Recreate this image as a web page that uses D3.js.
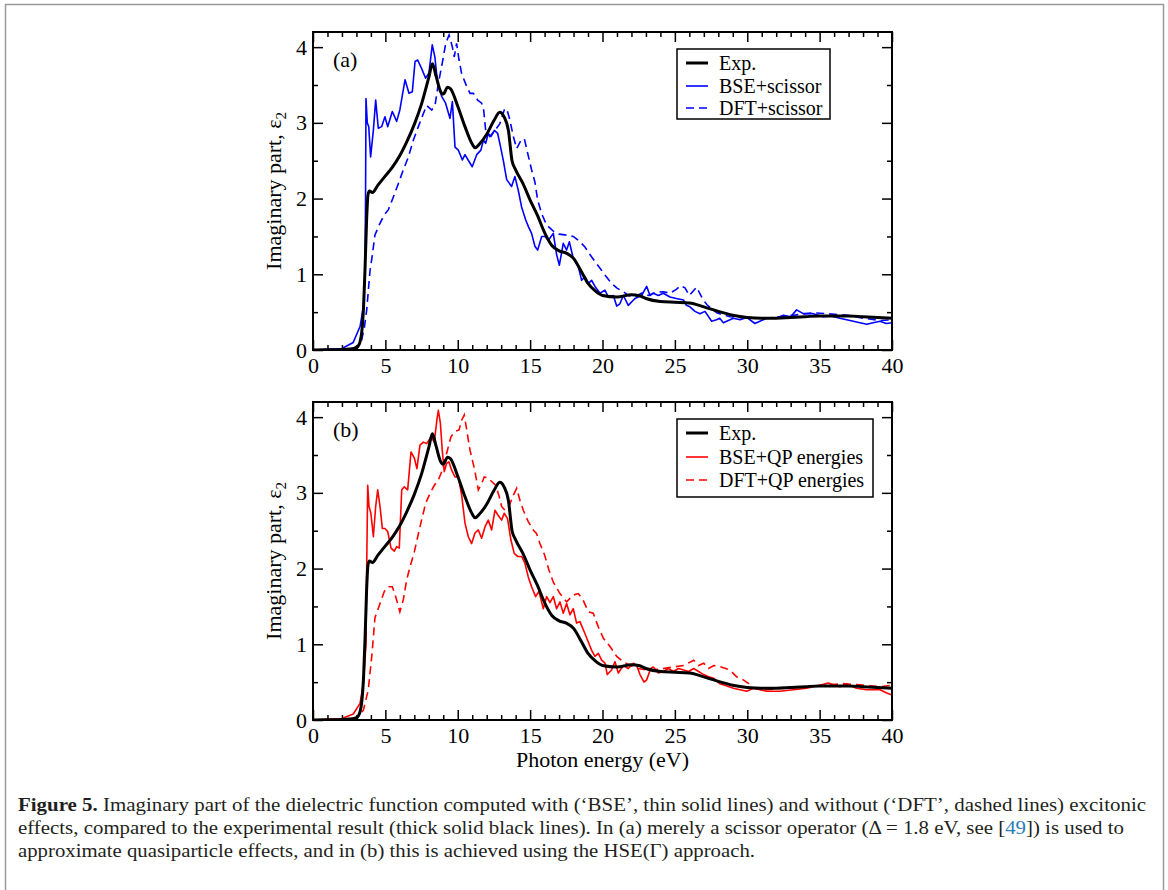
<!DOCTYPE html>
<html>
<head>
<meta charset="utf-8">
<script src="https://cdn.jsdelivr.net/npm/d3@7"></script>
<style>
  body { margin: 0; background: #fff; }
  svg { display: block; }
</style>
</head>
<body>
<svg id="chart" width="1168" height="890"></svg>
<script>
// experimental spectrum (same in both panels)
const expData = [[0,0],[1,0.002],[2,0.006],[2.5,0.012],[3,0.03],[3.2,0.08],[3.4,0.3],[3.5,0.6],[3.6,1.1],[3.7,1.7],[3.8,2.05],[3.9,2.1],[4.1,2.08],[4.5,2.18],[5,2.3],[5.5,2.42],[6,2.57],[6.5,2.76],[7,2.98],[7.5,3.25],[8,3.6],[8.25,3.78],[8.5,3.62],[8.8,3.42],[9,3.38],[9.3,3.47],[9.5,3.45],[10,3.22],[10.5,2.95],[11,2.72],[11.2,2.67],[11.5,2.72],[12,2.85],[12.5,3.03],[12.9,3.14],[13.2,3.08],[13.5,2.9],[13.75,2.5],[14,2.38],[14.5,2.2],[15,1.98],[15.5,1.78],[16,1.55],[16.5,1.38],[17,1.31],[17.5,1.28],[18,1.21],[18.5,1.05],[19,0.88],[19.5,0.78],[20,0.72],[21,0.7],[22,0.73],[22.5,0.72],[23,0.68],[24,0.64],[25,0.63],[26,0.62],[27,0.57],[28,0.51],[29,0.46],[30,0.43],[31,0.42],[32,0.42],[33,0.43],[34,0.44],[35,0.45],[36,0.45],[37,0.45],[38,0.44],[39,0.43],[40,0.42]];

// panel (a)
const bseScissor = [[0,0],[1,0.01],[2,0.02],[2.78,0.1],[3.25,0.31],[3.48,0.57],[3.59,1.0],[3.63,2.0],[3.66,3.32],[3.75,3.0],[3.85,2.95],[3.98,2.55],[4.17,2.9],[4.33,3.3],[4.51,2.93],[4.74,2.95],[4.97,3.08],[5.16,2.95],[5.48,3.15],[5.78,3.02],[6.0,3.17],[6.36,3.57],[6.63,3.39],[6.86,3.41],[7.05,3.81],[7.23,3.83],[7.5,3.72],[7.78,3.59],[8.01,3.66],[8.24,4.03],[8.42,3.87],[8.61,3.52],[8.89,3.35],[9.16,3.26],[9.46,3.06],[9.63,3.28],[9.81,2.68],[10.04,2.64],[10.32,2.51],[10.5,2.58],[10.78,2.49],[11.0,2.42],[11.31,2.58],[11.6,2.64],[11.77,2.77],[11.93,2.73],[12.11,2.86],[12.3,2.82],[12.53,2.9],[12.76,2.86],[12.94,2.7],[13.15,2.5],[13.38,2.25],[13.72,2.16],[13.95,2.29],[14.18,2.11],[14.41,1.89],[14.69,1.72],[14.88,1.63],[15.1,1.54],[15.33,1.37],[15.52,1.32],[15.8,1.5],[16.03,1.5],[16.26,1.45],[16.6,1.54],[16.83,1.26],[17.02,1.12],[17.29,1.41],[17.52,1.32],[17.71,1.43],[17.98,1.21],[18.33,1.1],[18.56,0.92],[18.79,0.97],[19.02,0.88],[19.25,0.92],[19.48,0.84],[19.83,0.75],[20.17,0.79],[20.4,0.7],[20.75,0.72],[20.98,0.58],[21.2,0.61],[21.44,0.72],[21.78,0.59],[22.24,0.68],[22.7,0.72],[23.05,0.84],[23.28,0.72],[23.51,0.75],[23.86,0.72],[24.2,0.75],[24.66,0.7],[25.1,0.68],[25.6,0.66],[25.8,0.59],[26.04,0.57],[26.39,0.51],[26.73,0.48],[27.08,0.51],[27.54,0.38],[27.88,0.4],[28.1,0.42],[28.35,0.36],[29.04,0.42],[29.5,0.4],[29.96,0.43],[30.53,0.35],[31.34,0.42],[32.0,0.42],[32.5,0.46],[33.0,0.44],[33.41,0.53],[33.87,0.48],[34.56,0.48],[35.25,0.44],[35.8,0.45],[36.4,0.42],[37.33,0.38],[38.25,0.34],[38.7,0.36],[39.17,0.38],[39.6,0.35],[40,0.36]];
const dftScissor = [[0,0],[1,0.003],[2,0.01],[2.78,0.02],[3.1,0.06],[3.36,0.13],[3.55,0.3],[3.71,0.53],[3.94,1.05],[4.06,1.2],[4.28,1.52],[4.62,1.67],[4.9,1.78],[5.2,1.85],[5.55,2.02],[5.9,2.2],[6.24,2.38],[6.59,2.55],[6.93,2.77],[7.28,2.95],[7.62,3.12],[7.85,3.23],[8.2,3.17],[8.43,3.23],[8.66,3.52],[8.93,3.79],[9.17,4.05],[9.4,4.16],[9.63,4.0],[9.76,3.87],[9.92,4.05],[10.09,3.83],[10.27,3.65],[10.62,3.48],[10.85,3.39],[11.08,3.39],[11.38,3.3],[11.65,3.26],[11.79,3.17],[11.93,2.9],[12.22,2.82],[12.57,2.9],[12.91,2.99],[13.21,3.17],[13.38,3.19],[13.6,3.04],[13.84,2.82],[14.07,2.66],[14.37,2.77],[14.6,2.79],[14.83,2.6],[15.1,2.38],[15.33,2.22],[15.52,1.98],[15.8,1.8],[16.14,1.65],[16.6,1.57],[17.0,1.53],[17.4,1.52],[17.98,1.5],[18.44,1.43],[18.79,1.36],[19.13,1.26],[19.48,1.17],[19.83,1.08],[20.17,0.99],[20.63,0.88],[20.98,0.82],[21.44,0.77],[21.78,0.72],[22.24,0.7],[22.7,0.75],[23.17,0.72],[23.63,0.76],[24.2,0.77],[24.66,0.75],[25.1,0.8],[25.4,0.85],[25.7,0.82],[26.0,0.72],[26.5,0.83],[26.9,0.68],[27.2,0.6],[27.5,0.55],[27.9,0.49],[28.4,0.46],[28.8,0.44],[29.4,0.43],[30,0.42],[31.3,0.42],[32.2,0.44],[33.2,0.46],[34.56,0.49],[35.5,0.48],[36.9,0.46],[38,0.42],[39.2,0.39],[40,0.4]];

// panel (b)
const bseQP = [[0,0],[1,0.01],[2,0.02],[2.78,0.08],[3.25,0.22],[3.48,0.48],[3.66,1.0],[3.72,2.2],[3.78,3.1],[3.87,2.82],[4.0,2.73],[4.17,2.42],[4.33,2.82],[4.47,3.04],[4.63,2.82],[4.79,2.53],[4.97,2.53],[5.16,2.49],[5.39,2.27],[5.62,2.23],[5.78,2.29],[5.96,2.27],[6.13,3.04],[6.31,3.08],[6.54,3.04],[6.77,3.54],[7.0,3.46],[7.18,3.32],[7.39,3.63],[7.62,3.67],[7.85,3.65],[8.15,3.74],[8.38,3.67],[8.57,3.98],[8.66,4.09],[8.8,3.92],[8.93,3.56],[9.07,3.28],[9.23,3.39],[9.39,3.41],[9.58,3.3],[9.81,3.21],[10.04,3.21],[10.27,2.97],[10.5,2.6],[10.73,2.42],[10.96,2.33],[11.19,2.47],[11.42,2.51],[11.65,2.4],[11.88,2.55],[12.11,2.64],[12.34,2.51],[12.57,2.77],[12.8,2.7],[13.03,2.64],[13.21,2.73],[13.44,2.66],[13.67,2.38],[13.9,2.2],[14.13,2.16],[14.41,2.16],[14.64,2.07],[14.87,1.89],[15.1,1.76],[15.38,1.63],[15.61,1.7],[15.91,1.47],[16.14,1.63],[16.37,1.55],[16.6,1.63],[16.83,1.47],[17.06,1.56],[17.29,1.41],[17.52,1.54],[17.75,1.39],[17.98,1.47],[18.21,1.28],[18.44,1.3],[18.79,1.14],[19.02,1.03],[19.25,0.92],[19.48,0.84],[19.71,0.88],[19.94,0.79],[20.17,0.75],[20.33,0.6],[20.63,0.66],[20.86,0.77],[21.09,0.62],[21.44,0.72],[21.78,0.68],[22.13,0.75],[22.36,0.72],[22.59,0.6],[22.87,0.5],[23.05,0.53],[23.33,0.68],[23.51,0.7],[23.86,0.62],[24.2,0.64],[24.55,0.68],[24.9,0.64],[25.25,0.68],[25.6,0.66],[25.95,0.64],[26.3,0.68],[26.64,0.64],[26.99,0.6],[27.33,0.57],[27.68,0.55],[28.1,0.48],[28.6,0.45],[29.04,0.42],[29.96,0.38],[30.43,0.42],[31.34,0.38],[32.26,0.38],[33.18,0.4],[34.1,0.42],[35.0,0.46],[35.6,0.49],[36.4,0.44],[36.86,0.48],[37.55,0.42],[38.25,0.4],[39.17,0.4],[39.6,0.36],[40,0.33]];
const dftQP = [[0,0],[1,0.003],[2,0.01],[3.02,0.02],[3.48,0.13],[3.82,0.4],[4.06,0.84],[4.28,1.35],[4.63,1.54],[4.93,1.7],[5.2,1.76],[5.48,1.76],[5.71,1.63],[6.0,1.43],[6.24,1.59],[6.47,1.85],[6.7,2.02],[7.0,2.22],[7.28,2.46],[7.5,2.64],[7.78,2.86],[8.08,2.99],[8.38,3.1],[8.66,3.17],[8.93,3.3],[9.23,3.52],[9.53,3.74],[9.81,3.81],[10.09,3.83],[10.27,3.96],[10.45,4.03],[10.62,3.83],[10.85,3.56],[11.15,3.32],[11.42,3.04],[11.65,3.12],[11.83,3.21],[12.07,3.2],[12.34,3.15],[12.61,3.1],[12.84,2.97],[13.03,2.82],[13.26,2.77],[13.53,2.82],[13.84,2.97],[14.07,3.06],[14.3,2.9],[14.53,2.77],[14.87,2.62],[15.22,2.51],[15.45,2.46],[15.68,2.33],[16.0,2.18],[16.3,1.98],[16.6,1.82],[17.06,1.67],[17.52,1.56],[17.98,1.65],[18.33,1.67],[18.67,1.58],[19.02,1.43],[19.36,1.41],[19.71,1.23],[20.06,1.08],[20.52,0.97],[20.98,0.84],[21.44,0.77],[21.9,0.72],[22.47,0.68],[23.05,0.66],[23.51,0.66],[24.2,0.68],[24.9,0.7],[25.6,0.72],[26.3,0.79],[26.64,0.72],[26.99,0.75],[27.33,0.68],[27.68,0.72],[28.2,0.7],[28.8,0.66],[29.27,0.57],[29.73,0.53],[30.1,0.48],[30.43,0.42],[31.34,0.4],[32.7,0.42],[34.1,0.44],[35.5,0.46],[36.6,0.48],[38.0,0.46],[39.17,0.44],[40,0.46]];

const xMajorTicks = [0, 5, 10, 15, 20, 25, 30, 35, 40];
const yMajorTicks = [0, 1, 2, 3, 4];
const legendA = ["Exp.", "BSE+scissor", "DFT+scissor"];
const legendB = ["Exp.", "BSE+QP energies", "DFT+QP energies"];

const serif = "'Liberation Serif', 'DejaVu Serif', serif";
const svg = d3.select("#chart");

// outer frame of the figure
svg.append("rect")
  .attr("x", 5.5).attr("y", 4.5)
  .attr("width", 1158).attr("height", 920)
  .attr("fill", "none").attr("stroke", "#9a9a9a").attr("stroke-width", 1.5);

const x = d3.scaleLinear().domain([0, 40]).range([313, 892]);

const panels = [
  { tag: "(a)", top: 32, bottom: 350, bse: bseScissor, dft: dftScissor, color: "#0000ff",
    labels: legendA, box: [677, 49, 153, 70], rows: [63, 86, 108] },
  { tag: "(b)", top: 402, bottom: 720, bse: bseQP, dft: dftQP, color: "#ff0000",
    labels: legendB, box: [677, 419, 196, 78], rows: [433, 457, 480] }
];

panels.forEach((p, i) => {
  const y = d3.scaleLinear().domain([0, 4.2]).range([p.bottom, p.top]);
  const g = svg.append("g");

  const clipId = "clip" + i;
  svg.append("clipPath").attr("id", clipId)
    .append("rect")
    .attr("x", x(0)).attr("y", p.top)
    .attr("width", x(40) - x(0)).attr("height", p.bottom - p.top);

  const line = d3.line().x(d => x(d[0])).y(d => y(d[1]));
  const smooth = d3.line().curve(d3.curveMonotoneX).x(d => x(d[0])).y(d => y(d[1]));

  const curves = g.append("g").attr("clip-path", `url(#${clipId})`);
  curves.append("path").attr("d", line(p.dft))
    .attr("fill", "none").attr("stroke", p.color).attr("stroke-width", 1.6)
    .attr("stroke-dasharray", "8,5");
  curves.append("path").attr("d", line(p.bse))
    .attr("fill", "none").attr("stroke", p.color).attr("stroke-width", 1.6)
    .attr("stroke-linejoin", "round");
  curves.append("path").attr("d", smooth(expData))
    .attr("fill", "none").attr("stroke", "#000").attr("stroke-width", 3)
    .attr("stroke-linejoin", "round");

  // ticks, all pointing inward
  const xMinor = d3.range(0, 41).filter(v => v % 5 !== 0);
  const yMinor = d3.range(0.5, 4.2, 1);

  const bottomAxis = g.append("g").attr("transform", `translate(0,${p.bottom})`)
    .call(d3.axisBottom(x).tickValues(xMajorTicks).tickSizeInner(-10).tickSizeOuter(0).tickPadding(7));
  g.append("g").attr("transform", `translate(0,${p.bottom})`)
    .call(d3.axisBottom(x).tickValues(xMinor).tickSizeInner(-5).tickSizeOuter(0).tickFormat(""));
  g.append("g").attr("transform", `translate(0,${p.top})`)
    .call(d3.axisTop(x).tickValues(xMajorTicks).tickSizeInner(-10).tickSizeOuter(0).tickFormat(""));
  g.append("g").attr("transform", `translate(0,${p.top})`)
    .call(d3.axisTop(x).tickValues(xMinor).tickSizeInner(-5).tickSizeOuter(0).tickFormat(""));

  const leftAxis = g.append("g").attr("transform", `translate(${x(0)},0)`)
    .call(d3.axisLeft(y).tickValues(yMajorTicks).tickSizeInner(-10).tickSizeOuter(0).tickPadding(6).tickFormat(d3.format("d")));
  g.append("g").attr("transform", `translate(${x(0)},0)`)
    .call(d3.axisLeft(y).tickValues(yMinor).tickSizeInner(-5).tickSizeOuter(0).tickFormat(""));
  g.append("g").attr("transform", `translate(${x(40)},0)`)
    .call(d3.axisRight(y).tickValues(yMajorTicks).tickSizeInner(-10).tickSizeOuter(0).tickFormat(""));
  g.append("g").attr("transform", `translate(${x(40)},0)`)
    .call(d3.axisRight(y).tickValues(yMinor).tickSizeInner(-5).tickSizeOuter(0).tickFormat(""));

  g.selectAll(".domain").remove();
  g.selectAll(".tick line").attr("stroke", "#000").attr("stroke-width", 1.5);
  g.selectAll(".tick text").attr("font-family", serif).attr("font-size", 22).attr("fill", "#000");

  // frame
  g.append("rect")
    .attr("x", x(0)).attr("y", p.top)
    .attr("width", x(40) - x(0)).attr("height", p.bottom - p.top)
    .attr("fill", "none").attr("stroke", "#000").attr("stroke-width", 2);

  // panel tag
  g.append("text").attr("x", 333).attr("y", p.top + 35)
    .attr("font-family", serif).attr("font-size", 22).text(p.tag);

  // y title
  const yt = g.append("text")
    .attr("transform", `translate(281,${(p.top + p.bottom) / 2}) rotate(-90)`)
    .attr("text-anchor", "middle")
    .attr("font-family", serif).attr("font-size", 22);
  yt.append("tspan").text("Imaginary part, ε");
  yt.append("tspan").attr("font-size", 15).attr("dy", 5).text("2");

  // legend
  const [bx, by, bw, bh] = p.box;
  g.append("rect").attr("x", bx).attr("y", by).attr("width", bw).attr("height", bh)
    .attr("fill", "#fff").attr("stroke", "#000").attr("stroke-width", 1.5);
  const styles = [
    { stroke: "#000", width: 3, dash: null },
    { stroke: p.color, width: 1.6, dash: null },
    { stroke: p.color, width: 1.6, dash: "8,5" }
  ];
  p.labels.forEach((lab, k) => {
    const ry = p.rows[k];
    g.append("line").attr("x1", 686).attr("x2", 708).attr("y1", ry).attr("y2", ry)
      .attr("stroke", styles[k].stroke).attr("stroke-width", styles[k].width)
      .attr("stroke-dasharray", styles[k].dash);
    g.append("text").attr("x", 719).attr("y", ry + 7)
      .attr("font-family", serif).attr("font-size", 20).text(lab);
  });
});

// x title
svg.append("text").attr("x", (x(0) + x(40)) / 2).attr("y", 767)
  .attr("text-anchor", "middle").attr("font-family", serif).attr("font-size", 22)
  .text("Photon energy (eV)");

// caption
const capColor = "#231f20";
const cap1 = svg.append("text").attr("x", 18).attr("y", 811)
  .attr("font-family", serif).attr("font-size", 18).attr("fill", capColor)
  .attr("textLength", 1128).attr("lengthAdjust", "spacingAndGlyphs");
cap1.append("tspan").attr("font-weight", "bold").text("Figure 5.");
cap1.append("tspan").text(" Imaginary part of the dielectric function computed with (\u2018BSE\u2019, thin solid lines) and without (\u2018DFT\u2019, dashed lines) excitonic");

const cap2 = svg.append("text").attr("x", 18).attr("y", 834)
  .attr("font-family", serif).attr("font-size", 18).attr("fill", capColor)
  .attr("textLength", 1106).attr("lengthAdjust", "spacingAndGlyphs");
cap2.append("tspan").text("effects, compared to the experimental result (thick solid black lines). In (a) merely a scissor operator (\u0394 = 1.8 eV, see [");
cap2.append("tspan").attr("fill", "#2a7db8").text("49");
cap2.append("tspan").text("]) is used to");

svg.append("text").attr("x", 18).attr("y", 857)
  .attr("font-family", serif).attr("font-size", 18).attr("fill", capColor)
  .attr("textLength", 737).attr("lengthAdjust", "spacingAndGlyphs")
  .text("approximate quasiparticle effects, and in (b) this is achieved using the HSE(\u0393) approach.");
</script>
</body>
</html>
